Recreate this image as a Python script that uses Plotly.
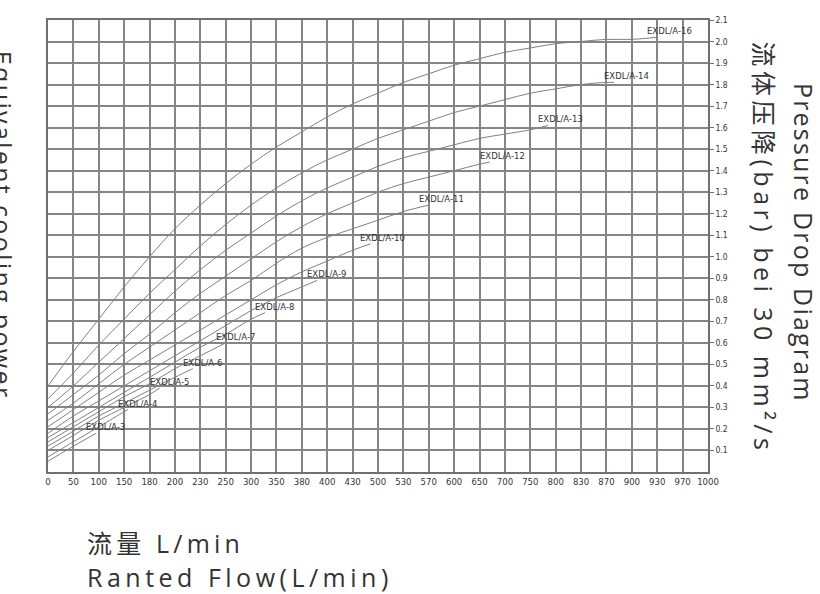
import plotly.graph_objects as go

# x tick labels (uniform grid positions 0..26)
x_labels = ["0", "50", "100", "150", "180", "200", "230", "250", "300", "350", "380",
            "400", "430", "500", "530", "570", "600", "650", "700", "750", "800",
            "830", "870", "900", "930", "970", "1000"]
y_ticks = [round(0.1 * k, 1) for k in range(1, 22)]

# curve names
names = ["EXDL/A-16", "EXDL/A-14", "EXDL/A-13", "EXDL/A-12", "EXDL/A-11", "EXDL/A-10",
         "EXDL/A-9", "EXDL/A-8", "EXDL/A-7", "EXDL/A-6", "EXDL/A-5", "EXDL/A-4", "EXDL/A-3"]

# grid positions (index on x grid) and pressure drop values
x_a16 = list(range(25))
y_a16 = [0.40, 0.56, 0.71, 0.86, 1.00, 1.13, 1.24, 1.34, 1.43, 1.51, 1.58, 1.65, 1.71,
         1.76, 1.81, 1.85, 1.89, 1.92, 1.95, 1.97, 1.99, 2.00, 2.01, 2.01, 2.02]
x_a14 = list(range(23)) + [22.3]
y_a14 = [0.34, 0.46, 0.59, 0.71, 0.83, 0.94, 1.05, 1.15, 1.24, 1.32, 1.39, 1.45, 1.50,
         1.55, 1.59, 1.63, 1.67, 1.70, 1.73, 1.76, 1.78, 1.80, 1.81, 1.81]
x_a13 = list(range(20)) + [19.7]
y_a13 = [0.30, 0.40, 0.51, 0.62, 0.73, 0.84, 0.94, 1.03, 1.11, 1.19, 1.26, 1.32, 1.37,
         1.42, 1.46, 1.49, 1.52, 1.55, 1.57, 1.59, 1.61]
x_a12 = list(range(18)) + [17.4]
y_a12 = [0.27, 0.36, 0.45, 0.55, 0.64, 0.74, 0.83, 0.91, 0.99, 1.07, 1.14, 1.20, 1.25,
         1.30, 1.34, 1.37, 1.40, 1.43, 1.44]
x_a11 = list(range(16))
y_a11 = [0.24, 0.32, 0.41, 0.50, 0.58, 0.66, 0.74, 0.82, 0.89, 0.97, 1.04, 1.09, 1.13,
         1.17, 1.21, 1.24]
x_a10 = list(range(13)) + [12.7]
y_a10 = [0.21, 0.29, 0.37, 0.45, 0.52, 0.59, 0.66, 0.73, 0.80, 0.87, 0.93, 0.98, 1.03, 1.06]
x_a9 = list(range(11)) + [10.6]
y_a9 = [0.18, 0.26, 0.33, 0.40, 0.47, 0.54, 0.61, 0.68, 0.75, 0.81, 0.86, 0.89]
x_a8 = list(range(9)) + [8.55]
y_a8 = [0.16, 0.23, 0.30, 0.37, 0.44, 0.51, 0.58, 0.64, 0.71, 0.74]
x_a7 = list(range(8))
y_a7 = [0.14, 0.21, 0.28, 0.35, 0.41, 0.48, 0.54, 0.60]
x_a6 = list(range(6)) + [5.7]
y_a6 = [0.12, 0.19, 0.26, 0.32, 0.38, 0.44, 0.48]
x_a5 = list(range(5)) + [4.4]
y_a5 = [0.10, 0.17, 0.24, 0.30, 0.36, 0.39]
x_a4 = list(range(4)) + [3.15]
y_a4 = [0.07, 0.14, 0.21, 0.28, 0.29]
x_a3 = [0, 1, 1.9]
y_a3 = [0.05, 0.12, 0.18]

curves = [(x_a16, y_a16), (x_a14, y_a14), (x_a13, y_a13), (x_a12, y_a12), (x_a11, y_a11),
          (x_a10, y_a10), (x_a9, y_a9), (x_a8, y_a8), (x_a7, y_a7), (x_a6, y_a6),
          (x_a5, y_a5), (x_a4, y_a4), (x_a3, y_a3)]

FONT = "Open Sans, Noto Sans CJK SC, sans-serif"
SMALL = "DejaVu Sans Condensed, sans-serif"
fig = go.Figure()
annotations = []
for name, (xs, ys) in zip(names, curves):
    fig.add_trace(go.Scatter(x=xs, y=ys, mode="lines",
                             line=dict(color="#808080", width=1, shape="spline"),
                             showlegend=False, hoverinfo="skip"))
    annotations.append(dict(x=xs[-1], y=ys[-1], xref="x", yref="y", text=name, showarrow=False,
                            xanchor="left", yanchor="middle", xshift=-12, yshift=6,
                            font=dict(size=8.5, color="#333", family="DejaVu Sans, sans-serif")))

W, H = 820, 594
L, R, T, B = 48, 112, 20, 122
pw, ph = W - L - R, H - T - B


def px(x):
    return (x - L) / pw


def py(y):
    return (H - B - y) / ph


annotations += [
    dict(xref="paper", yref="paper", x=px(3), y=py(225), text="Equivalent cooling power", textangle=90,
         showarrow=False, xanchor="center", yanchor="middle", font=dict(size=25, color="#333", family=FONT)),
    dict(xref="paper", yref="paper", x=px(764), y=py(248), text="流体压降(bar) bei 30 mm²/s", textangle=90,
         showarrow=False, xanchor="center", yanchor="middle", font=dict(size=25, color="#333", family=FONT)),
    dict(xref="paper", yref="paper", x=px(804), y=py(243), text="Pressure Drop Diagram", textangle=90,
         showarrow=False, xanchor="center", yanchor="middle", font=dict(size=25, color="#333", family=FONT)),
    dict(xref="paper", yref="paper", x=px(85), y=py(543), text="流量 L/min", align="left",
         showarrow=False, xanchor="left", yanchor="middle", font=dict(size=25, color="#333", family=FONT)),
    dict(xref="paper", yref="paper", x=px(85), y=py(577), text="Ranted Flow(L/min)", align="left",
         showarrow=False, xanchor="left", yanchor="middle", font=dict(size=25, color="#333", family=FONT)),
]

fig.update_layout(
    width=W, height=H, margin=dict(l=L, r=R, t=T, b=B),
    paper_bgcolor="white", plot_bgcolor="white",
    annotations=annotations,
    xaxis=dict(range=[0, 26], tickmode="array", tickvals=list(range(27)), ticktext=x_labels,
               showgrid=True, gridcolor="#858585", gridwidth=1.5, zeroline=False,
               showline=True, linecolor="#707070", linewidth=1.5, mirror=True, ticks="",
               tickfont=dict(size=9.5, color="#333", family=SMALL), tickangle=0),
    yaxis=dict(range=[0, 2.1], side="right", tickmode="array", tickvals=y_ticks,
               ticktext=[f"{v:.1f}" for v in y_ticks],
               showgrid=True, gridcolor="#858585", gridwidth=1.5, zeroline=False,
               showline=True, linecolor="#707070", linewidth=1.5, mirror=True,
               ticks="outside", ticklen=4, tickcolor="#707070",
               tickfont=dict(size=8.5, color="#333", family=SMALL)),
)

post = """
document.body.style.margin = '0';
var sp = [["Equivalent", 2.35], ["Pressure", 2.2], ["流量", 4.2], ["Ranted", 4.5], ["流体", 4.5]];
document.querySelectorAll('.annotation-text').forEach(function(t) {
  var s = t.textContent;
  sp.forEach(function(p) { if (s.indexOf(p[0]) === 0) { t.style.letterSpacing = p[1] + 'px'; } });
});
"""

fig.write_html("out.html", post_script=post, config={"displayModeBar": False})
